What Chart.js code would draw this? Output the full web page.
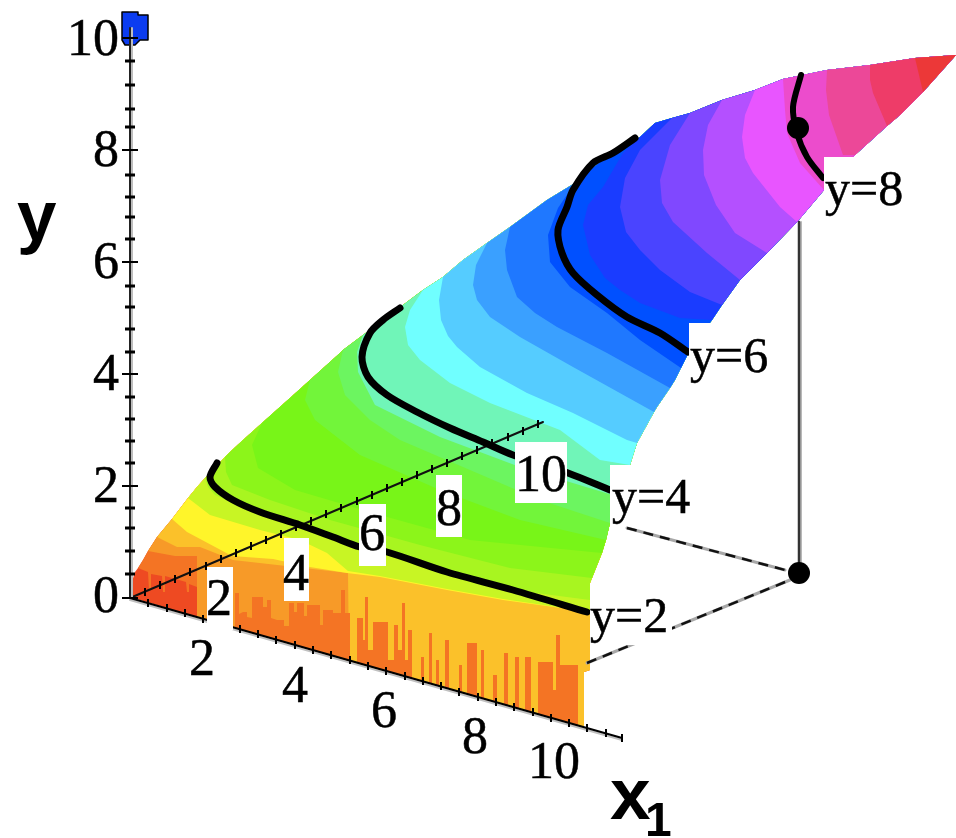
<!DOCTYPE html>
<html>
<head>
<meta charset="utf-8">
<title>Surface y over x1, x2</title>
<script src="https://cdn.jsdelivr.net/npm/chart.js@4"></script>
<style>
  html, body { margin: 0; padding: 0; background: #fff; }
  canvas { display: block; }
</style>
</head>
<body>
<canvas id="surfaceChart" width="956" height="838"></canvas>
<script>
// The picture is a 3D projection, so every value is read in picture units
// (x 0-956, y 838-0) and goes through two hidden linear scales.

// ------------------------- SURFACE -------------------------
// outline of the surface, clockwise from the origin
const surfaceEdge = [
  [130,597],[131,585],[135,572],[138,568],[143,560],[148,551],[157,537],[172,519],[188,498],[197,487],
  [205,478],[210,473],[225,457],[230,452],[243,440],[262,423],[290,398],[310,380],[340,353],[343,350],
  [363,335],[403,305],[423,290],[443,277],[463,260],[487,243],[510,227],[547,200],[575,183],[587,172],
  [610,155],[640,137],[655,123],[672,118],[690,113],[722,100],[755,90],[783,79],[827,70],[870,65],
  [915,58],[956,55],[923,92],[900,115],[887,126],[855,155],[824,190],[797,222],[767,253],[740,280],
  [722,305],[712,320],[689,352],[681,368],[675,380],[670,388],[657,407],[654,412],[637,443],[630,465],
  [619,497],[610,523],[606,540],[602,553],[592,578],[590,583],[590,600],[590,612],[590,670],[584,672],
  [584,727],[349,661],[235,628],[207,620],[197,617],[130,597]
];

// colour of each band, low y to high y; the first one is the base fill
const bandColors = [
  '#ee4a22','#f47424','#f79a28','#fbc12a','#fff52a','#c8f524','#a8f520','#8cf51a','#78f518','#72f53a',
  '#6cf560','#70f5b8','#70ffff','#55ccff','#3aa0ff','#1f78ff','#0050ff','#1a3cff','#4a44ff','#8048ff',
  '#b450ff','#e855ff','#ec4ccc','#ec4898','#ee3c68','#ec3838'
];

// boundary where each band begins (bandColors[i + 1] starts at bandCurves[i])
const bandCurves = [
  [[138,568],[148,572],[149,590],[151,590],[151,574],[162,576],[163,592],[165,592],[165,576],[186,582],[187,592],[189,592],[189,584],[197,587],[197,617]],
  [[148,551],[175,556],[197,556],[197,617]],
  [[157,537],[177,547],[200,547],[233,560],[348,573],[349,661]],
  [[172,519],[187,532],[232,556],[273,559],[310,567],[347,573],[380,577],[447,590],[503,600],[590,612]],
  [[188,498],[210,515],[260,530],[300,540],[327,553],[348,571],[380,576],[447,589],[503,599],[590,612]],
  [[205,478],[208,487],[215,495],[260,515],[300,527],[390,555],[450,572],[513,590],[590,600]],
  [[225,457],[226,472],[232,485],[270,500],[330,520],[420,545],[510,568],[592,578]],
  [[262,423],[252,445],[258,468],[295,490],[380,515],[470,540],[602,553]],
  [[310,380],[305,400],[315,420],[360,455],[440,490],[520,520],[606,540]],
  [[343,350],[338,372],[345,395],[370,420],[400,440],[470,470],[540,500],[610,523]],
  [[363,335],[357,352],[358,372],[375,405],[440,437],[520,467],[619,497]],
  [[423,290],[410,310],[405,327],[408,345],[420,360],[450,383],[490,403],[560,430],[600,460],[630,465]],
  [[443,277],[439,300],[441,320],[448,336],[457,347],[480,367],[527,393],[573,413],[627,440],[637,443]],
  [[487,243],[476,265],[473,285],[477,300],[490,317],[520,337],[573,367],[654,412]],
  [[510,227],[505,250],[507,270],[517,297],[535,313],[557,327],[607,353],[670,388]],
  [[575,183],[558,208],[548,235],[550,262],[570,287],[607,313],[640,340],[681,368]],
  [[655,123],[623,153],[603,187],[588,205],[583,225],[590,255],[605,278],[620,290],[640,303],[680,318],[712,320]],
  [[672,118],[640,150],[625,178],[620,207],[626,232],[640,250],[660,270],[690,292],[722,305]],
  [[690,113],[670,145],[660,180],[662,203],[673,222],[707,253],[740,280]],
  [[722,100],[708,125],[703,150],[704,175],[716,205],[735,233],[767,253]],
  [[755,90],[745,115],[742,137],[745,158],[753,173],[780,207],[797,222]],
  [[783,79],[785,110],[787,133],[800,163],[824,190]],
  [[827,70],[826,90],[829,115],[843,155],[855,155]],
  [[870,65],[870,80],[873,93],[887,126]],
  [[915,58],[923,92]]
];

// dark orange streaks along the x1 axis
const streakEdge = [
  [235,628],[235,593],[239,593],[239,614],[243,612],[247,612],[247,617],[252,618],[252,597],[263,597],[263,607],
  [267,607],[267,600],[271,600],[271,618],[277,620],[284,620],[284,626],[289,626],[289,603],[294,603],[294,612],
  [297,612],[297,603],[304,603],[304,616],[307,616],[307,605],[320,605],[320,625],[323,625],[323,610],[333,610],
  [333,613],[341,613],[341,590],[345,590],[345,613],[350,613],[350,660],[357,662],[357,618],[363,618],[363,640],
  [365,640],[365,597],[368,597],[368,650],[373,650],[373,622],[388,622],[388,660],[394,660],[394,625],[398,625],
  [398,650],[402,650],[402,603],[405,603],[405,660],[408,660],[408,630],[412,630],[412,678],[421,681],[421,657],
  [424,657],[424,682],[429,683],[429,633],[432,633],[432,684],[436,685],[436,660],[439,660],[439,686],[445,688],
  [445,640],[449,640],[449,690],[459,691],[459,665],[462,665],[462,693],[467,694],[467,643],[477,643],[477,697],
  [481,698],[481,650],[484,650],[484,700],[493,701],[493,675],[497,675],[497,702],[504,704],[504,653],[508,653],
  [508,706],[515,708],[515,657],[519,657],[519,709],[525,710],[525,657],[531,657],[531,712],[538,714],[538,662],
  [553,662],[553,690],[556,690],[556,635],[560,635],[560,665],[578,665],[578,725],[584,727]
];

// ------------------------- LEVEL CURVES y=2,4,6,8 -------------------------
const levelY2 = [[217,463],[210,477],[215,487],[233,500],[260,512],[300,525],[333,537],[360,547],[387,552],[447,572],[513,590],[587,612]];
const levelY4 = [[400,308],[383,320],[370,333],[362,357],[368,377],[387,395],[417,412],[450,428],[483,442],[513,455],[568,473],[610,490]];
const levelY6 = [[635,138],[613,153],[593,163],[573,190],[567,207],[558,230],[562,253],[573,273],[597,295],[627,317],[660,333],[688,352]];
const levelY8 = [[801,75],[793,107],[797,133],[807,157],[823,178]];

// ------------------------- AXES -------------------------
const yAxisLine = [[130,28],[130,598]];
const yMajorTicks = [[130,38],[130,150],[130,262],[130,374],[130,486],[130,598]];
const yMinorTicks = [
  [130,61],[130,85],[130,109],[130,127],[130,175],[130,197],[130,217],[130,239],[130,286],[130,307],[130,329],[130,352],
  [130,397],[130,419],[130,441],[130,463],[130,508],[130,528],[130,551],[130,574]
];
const x1AxisLine = [[130,598],[622,738]];
const x1Ticks = [
  [148,603],[167,608],[185,613],[203,619],[222,624],[240,629],[258,634],[276,640],[295,645],[313,650],[331,655],[350,660],[368,666],
  [386,671],[405,676],[423,681],[441,686],[459,692],[478,697],[496,702],[514,707],[533,712],[551,718],[569,723],[587,728],[606,733],[622,738]
];
const x2AxisLine = [[130,598],[543,422]];
const x2Ticks = [
  [145,592],[160,585],[175,579],[190,572],[206,566],[221,559],[236,553],[251,546],[266,540],[281,534],[296,527],[311,521],[326,514],
  [341,508],[357,501],[372,495],[387,488],[402,482],[417,475],[432,469],[447,463],[462,456],[477,450],[492,443],[508,437],[523,431],[538,424]
];
const blueMarker = [[122,12],[138,12],[138,15],[148,15],[148,40],[140,40],[135,45],[125,45],[122,40],[122,12]];

// ------------------------- SELECTED POINT -------------------------
const dropStem = [[799,222],[799,572]];
const dropToX2 = [[627,528],[785,570]];
const dropToX1 = [[587,663],[790,580]];
const footPoint = [[799,573]];
const surfacePoint = [[798,128]];

// ------------------------- TEXT -------------------------
const yTickTexts = ['10','8','6','4','2','0'];
const yTickTextY = [55,166,278,390,502,612];
const x1TickTexts = ['2','4','6','8','10'];
const x1TickTextX = [202,295,384,475,554];
const x1TickTextY = [675,702,727,753,778];
const x2TickTexts = ['2','4','6','8','10'];
const x2TickTextX = [219,296,372,449,541];
const x2TickTextY = [615,590,550,525,491];
const x2TickBoxes = [[207,567,26,63],[284,538,25,63],[359,504,27,62],[436,475,26,62],[515,442,52,61]];
const levelTexts = ['y=2','y=4','y=6','y=8'];
const levelTextX = [590,612,690,825];
const levelTextY = [632,513,372,205];
const levelBoxes = [[590,583,82,62],[610,465,82,61],[689,323,82,60],[824,157,82,60]];

function pts(list) {
  return list.map(p => ({ x: p[0], y: p[1] }));
}

// region above a boundary: the curve, then back along the outline to its start
function nearestEdgeIndex(p) {
  let best = 0, bestD = Infinity;
  surfaceEdge.forEach((e, i) => {
    const d = (e[0] - p[0]) ** 2 + (e[1] - p[1]) ** 2;
    if (d < bestD) { bestD = d; best = i; }
  });
  return best;
}

function bandShape(curve) {
  const s = nearestEdgeIndex(curve[0]);
  const r = nearestEdgeIndex(curve[curve.length - 1]);
  return curve.concat(surfaceEdge.slice(s + 1, r).reverse());
}

function lineSet(list, color, width, extra) {
  return Object.assign({
    data: pts(list), showLine: true, borderColor: color, borderWidth: width,
    pointRadius: 0, fill: false, borderCapStyle: 'round', borderJoinStyle: 'round'
  }, extra || {});
}

function shapeSet(list, color) {
  return lineSet(list, color, 0, { fill: 'shape', backgroundColor: color, borderColor: color });
}

function tickSet(list, radius, rotation, width) {
  return {
    data: pts(list), showLine: false, pointStyle: 'line', pointRadius: radius, pointRotation: rotation,
    pointBorderColor: '#000', pointBorderWidth: width, pointBackgroundColor: '#000'
  };
}

function dotSet(list, radius) {
  return { data: pts(list), showLine: false, pointStyle: 'circle', pointRadius: radius, pointBackgroundColor: '#000', pointBorderColor: '#000', pointBorderWidth: 0 };
}

// drawing order, back to front
const layers = [
  shapeSet(surfaceEdge, bandColors[0]),
  ...bandCurves.map((c, i) => shapeSet(bandShape(c), bandColors[i + 1])),
  shapeSet(streakEdge, '#f47424'),

  lineSet(dropStem.map(p => [p[0] + 2, p[1]]), '#b8b8b8', 2),
  lineSet(dropStem, '#333', 2.5),
  lineSet(dropToX2, '#a8a8a8', 3),
  lineSet(dropToX2, '#111', 2.5, { borderDash: [10, 7], borderCapStyle: 'butt' }),
  lineSet(dropToX1, '#a8a8a8', 3),
  lineSet(dropToX1, '#111', 2.5, { borderDash: [10, 7], borderCapStyle: 'butt' }),
  dotSet(footPoint, 11),

  lineSet(x1AxisLine.map(p => [p[0], p[1] + 2]), '#c0c0c0', 2),
  lineSet(x1AxisLine, '#000', 2),
  tickSet(x1Ticks, 4, 90, 2),
  lineSet(x2AxisLine, '#111', 2),
  tickSet(x2Ticks, 4, 90, 2),

  lineSet(blueMarker, '#000', 1.5, { fill: 'shape', backgroundColor: '#0b3cf0' }),
  lineSet(yAxisLine.map(p => [p[0] + 2, p[1]]), '#bdbdbd', 2),
  lineSet(yAxisLine, '#222', 2),
  tickSet(yMajorTicks, 8, 0, 2),
  tickSet(yMinorTicks, 5, 0, 3),

  lineSet(levelY2, '#000', 7, { tension: 0.3 }),
  lineSet(levelY4, '#000', 7, { tension: 0.3 }),
  lineSet(levelY6, '#000', 7, { tension: 0.3 }),
  lineSet(levelY8, '#000', 6, { tension: 0.3 }),
  dotSet(surfacePoint, 11)
];

// later datasets sit below earlier ones in Chart.js, so order counts down
layers.forEach((d, i) => { d.order = layers.length - i; });

const labelPlugin = {
  id: 'labelPlugin',
  afterDatasetsDraw(chart) {
    const ctx = chart.ctx;
    const sx = chart.scales.x, sy = chart.scales.y;
    const box = b => {
      const x0 = sx.getPixelForValue(b[0]), y0 = sy.getPixelForValue(b[1]);
      ctx.fillRect(x0, y0, sx.getPixelForValue(b[0] + b[2]) - x0, sy.getPixelForValue(b[1] + b[3]) - y0);
    };
    const text = (t, x, y) => {
      ctx.fillText(t, sx.getPixelForValue(x), sy.getPixelForValue(y));
    };
    // the reference digits are heavy from upscaling, a thin stroke gets close
    const heavyText = (t, x, y) => {
      ctx.strokeText(t, sx.getPixelForValue(x), sy.getPixelForValue(y));
      text(t, x, y);
    };

    ctx.save();
    ctx.fillStyle = '#fff';
    x2TickBoxes.forEach(box);
    levelBoxes.forEach(box);

    ctx.fillStyle = '#000';
    ctx.strokeStyle = '#000';
    ctx.lineWidth = 0.5;
    ctx.textBaseline = 'alphabetic';
    ctx.font = '52px "Liberation Serif"';
    ctx.textAlign = 'right';
    yTickTexts.forEach((t, i) => heavyText(t, 119, yTickTextY[i]));
    ctx.textAlign = 'center';
    x1TickTexts.forEach((t, i) => heavyText(t, x1TickTextX[i], x1TickTextY[i]));
    x2TickTexts.forEach((t, i) => heavyText(t, x2TickTextX[i], x2TickTextY[i]));

    ctx.font = '50px "Liberation Serif"';
    ctx.textAlign = 'left';
    levelTexts.forEach((t, i) => heavyText(t, levelTextX[i], levelTextY[i]));

    ctx.font = 'bold 71px "Liberation Sans"';
    text('y', 17, 240);
    ctx.font = 'bold 73px "Liberation Sans"';
    text('x', 610, 819);
    ctx.font = 'bold 48px "Liberation Sans"';
    text('1', 645, 836);
    ctx.restore();
  }
};

new Chart(document.getElementById('surfaceChart').getContext('2d'), {
  type: 'scatter',
  data: { datasets: layers },
  options: {
    responsive: false,
    animation: false,
    layout: { padding: 0, autoPadding: false },
    plugins: { legend: { display: false }, tooltip: { enabled: false } },
    scales: {
      x: { type: 'linear', min: 0, max: 956, display: false },
      y: { type: 'linear', min: 0, max: 838, reverse: true, display: false }
    }
  },
  plugins: [labelPlugin]
});
</script>
</body>
</html>
